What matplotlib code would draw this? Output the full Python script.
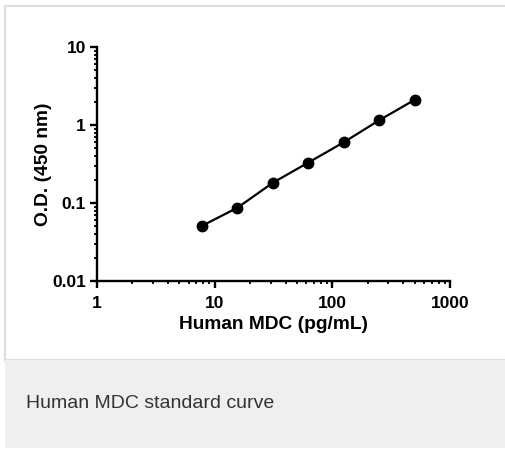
import matplotlib.pyplot as plt
from matplotlib.patches import Rectangle
from matplotlib.ticker import LogLocator, FixedLocator, FixedFormatter, NullFormatter

# valeurs
conc = [7.8125, 15.625, 31.25, 62.5, 125, 250, 500]
od = [0.051, 0.087, 0.182, 0.33, 0.6, 1.15, 2.1]
xticks = [1, 10, 100, 1000]
xlabels = ['1', '10', '100', '1000']
yticks = [0.01, 0.1, 1, 10]
ylabels = ['0.01', '0.1', '1', '10']

plt.rcParams['font.family'] = ['Liberation Sans', 'DejaVu Sans']

W, H = 506, 450
fig = plt.figure(figsize=(W / 100, H / 100), dpi=100)
fig.patch.set_facecolor('white')

# cadre de la carte et zone de légende
fig.patches.append(Rectangle((5.5 / W, 1 - 359.5 / H), 1, 353.5 / H, transform=fig.transFigure,
                             facecolor='white', edgecolor='#dddddd', linewidth=1.5, zorder=-2))
fig.patches.append(Rectangle((5.5 / W, 1 - 448 / H), 1, 88 / H, transform=fig.transFigure,
                             facecolor='#eeefee', edgecolor='none', zorder=-2))
fig.text(26 / W, 1 - 403 / H, 'Human MDC standard curve', fontsize=14, color='#333333',
         va='center', ha='left')

ax = fig.add_axes([97 / W, 1 - 281 / H, (450 - 97) / W, (281 - 47) / H])
ax.set_facecolor('none')
ax.plot(conc, od, color='black', linewidth=1.6, marker='o', markersize=7.5, zorder=3)

ax.set_xscale('log')
ax.set_yscale('log')
ax.set_xlim(1, 1000)
ax.set_ylim(0.01, 10)
ax.xaxis.set_major_locator(FixedLocator(xticks))
ax.xaxis.set_major_formatter(FixedFormatter(xlabels))
ax.yaxis.set_major_locator(FixedLocator(yticks))
ax.yaxis.set_major_formatter(FixedFormatter(ylabels))
ax.xaxis.set_minor_locator(LogLocator(base=10, subs=range(2, 10)))
ax.yaxis.set_minor_locator(LogLocator(base=10, subs=range(2, 10)))
ax.xaxis.set_minor_formatter(NullFormatter())
ax.yaxis.set_minor_formatter(NullFormatter())

for s in ['top', 'right']:
    ax.spines[s].set_visible(False)
for s in ['left', 'bottom']:
    ax.spines[s].set_linewidth(1.7)
ax.tick_params(which='major', length=5, width=1.7, labelsize=12.5)
ax.tick_params(axis='x', which='major', pad=6)
ax.tick_params(axis='y', which='major', pad=3)
ax.tick_params(which='minor', length=2.5, width=1.3)
for lab in ax.get_xticklabels() + ax.get_yticklabels():
    lab.set_fontweight('bold')

ax.set_xlabel('Human MDC (pg/mL)', fontsize=13.8, fontweight='bold', labelpad=3.5)
ax.set_ylabel('O.D. (450 nm)', fontsize=13.8, fontweight='bold', labelpad=0)

fig.savefig('out.png', dpi=100)
